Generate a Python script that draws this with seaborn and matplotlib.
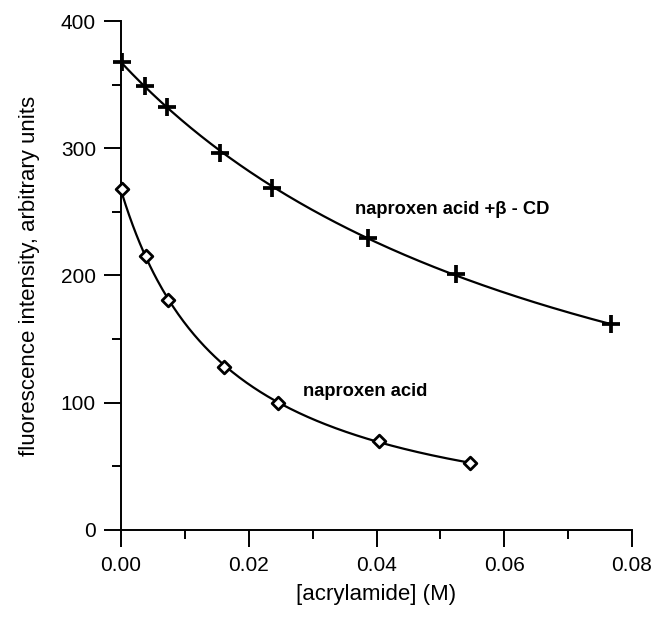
import numpy as np
import pandas as pd
import seaborn as sns
import matplotlib
matplotlib.use("Agg")
import matplotlib.pyplot as plt
from matplotlib.ticker import MultipleLocator, FormatStrFormatter

# acrylamide concentration (M) and fluorescence readings
acryl_cd = [0.0002, 0.0038, 0.0072, 0.0155, 0.0236, 0.0387, 0.0524, 0.0767]
fluor_cd = [368, 349, 332.5, 296, 269, 229.5, 201, 161.5]

acryl_free = [0.0002, 0.0039, 0.0074, 0.0161, 0.0246, 0.0404, 0.0547]
fluor_free = [268, 215, 181, 128, 99.5, 70, 52.5]

label_cd = "naproxen acid +\u03b2 - CD"
label_free = "naproxen acid"


def sv_curve(x, y):
    # quadratic Stern-Volmer fit F0/F = 1 + a x + b x^2
    x = np.asarray(x)
    y = np.asarray(y)
    f0 = y[0]
    c = np.polyfit(x, f0 / y, 2)
    xs = np.linspace(x.min(), x.max(), 200)
    return xs, f0 / np.polyval(c, xs)


sns.set_style("ticks")
plt.rcParams['font.family'] = ['Liberation Sans', 'DejaVu Sans']
plt.rcParams['text.color'] = 'k'
plt.rcParams['axes.labelcolor'] = 'k'

fig = plt.figure(figsize=(6.54, 6.22), dpi=100)
ax = fig.add_axes([0.185, 0.148, 0.7814, 0.8182])

for xx, yy in [(acryl_cd, fluor_cd), (acryl_free, fluor_free)]:
    xs, ys = sv_curve(xx, yy)
    sns.lineplot(x=xs, y=ys, ax=ax, color='k', linewidth=1.6, sort=False,
                 estimator=None, zorder=2)

df_cd = pd.DataFrame({'x': acryl_cd, 'y': fluor_cd})
df_free = pd.DataFrame({'x': acryl_free, 'y': fluor_free})
sns.scatterplot(data=df_cd, x='x', y='y', ax=ax, marker='+', s=160,
                color='k', linewidth=2.7, zorder=3, clip_on=False)
sns.scatterplot(data=df_free, x='x', y='y', ax=ax, marker='D', s=42,
                facecolor='white', edgecolor='k', linewidth=2.0, zorder=3,
                clip_on=False)

ax.text(0.0366, 248, label_cd, fontsize=13.2, fontweight='bold',
        va='baseline', color='k')
ax.text(0.0285, 105, label_free, fontsize=13.2, fontweight='bold',
        va='baseline', color='k')

ax.set_xlim(0, 0.08)
ax.set_ylim(0, 400)
ax.xaxis.set_major_locator(MultipleLocator(0.02))
ax.xaxis.set_minor_locator(MultipleLocator(0.01))
ax.xaxis.set_major_formatter(FormatStrFormatter('%.2f'))
ax.yaxis.set_major_locator(MultipleLocator(100))
ax.yaxis.set_minor_locator(MultipleLocator(50))

ax.tick_params(which='major', length=12, width=1.4, labelsize=15, pad=6,
               color='k', labelcolor='k')
ax.tick_params(axis='x', which='major', pad=7)
ax.tick_params(which='minor', length=6.5, width=1.4, color='k')
for s in ['left', 'bottom']:
    ax.spines[s].set_linewidth(1.4)
    ax.spines[s].set_color('k')
sns.despine(ax=ax)

ax.set_xlabel("[acrylamide] (M)", fontsize=16, labelpad=6, color='k')
ax.set_ylabel("fluorescence intensity, arbitrary units", fontsize=16,
              labelpad=15, color='k')

fig.savefig("out.png", dpi=100)
